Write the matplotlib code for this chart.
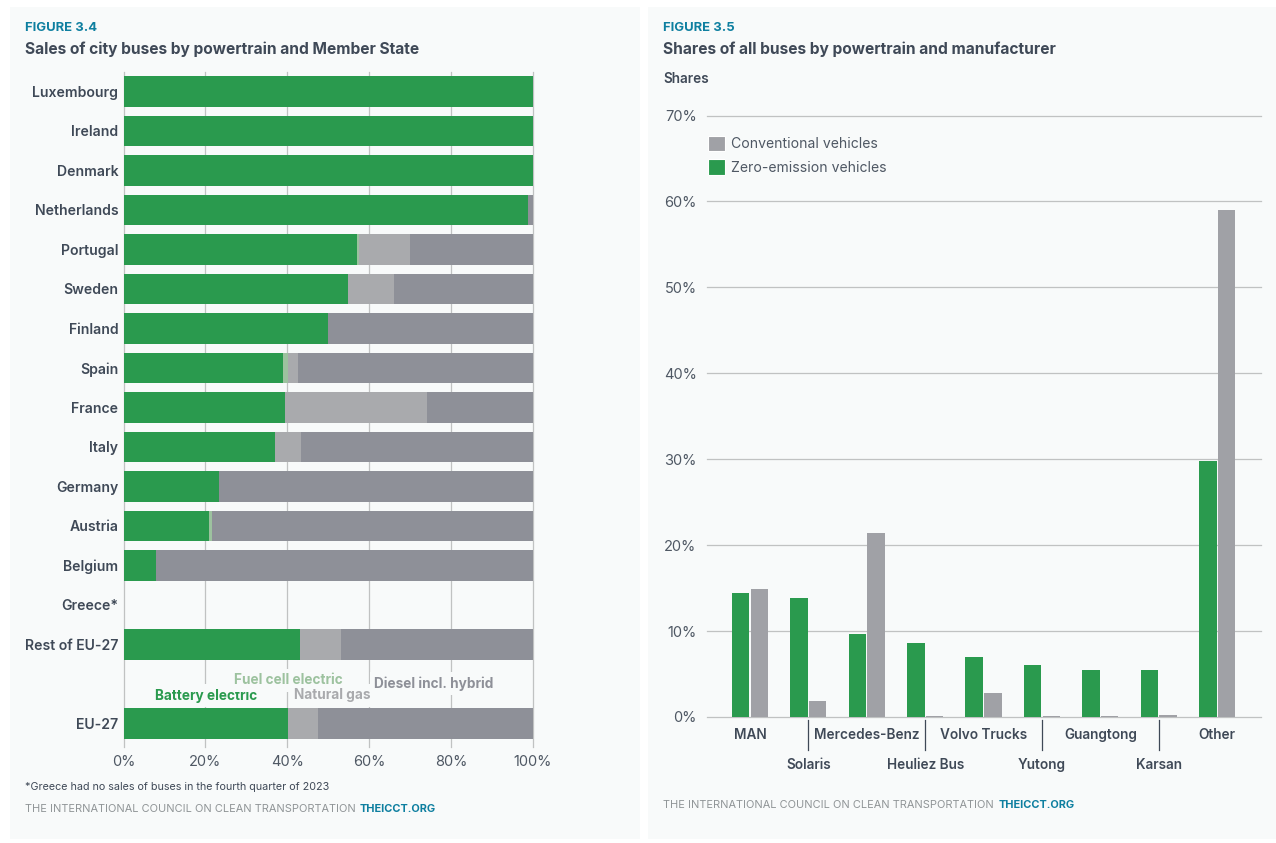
"""
Two panels: city bus sales by Member State, bus shares by manufacturer.
"""

import numpy as np
import matplotlib
matplotlib.use("Agg")
import matplotlib.pyplot as plt
from matplotlib.patches import Rectangle, Patch

plt.rcParams["font.family"] = ["Inter", "DejaVu Sans"]

W, H = 1276, 843

# ---------------------------------------------------------------------------
# Data
# ---------------------------------------------------------------------------

countries = ["Luxembourg", "Ireland", "Denmark", "Netherlands", "Portugal", "Sweden",
             "Finland", "Spain", "France", "Italy", "Germany", "Austria", "Belgium",
             "Greece*", "Rest of EU-27", "", "EU-27"]
battery = [100, 100, 100, 98.8, 57.0, 54.8, 49.9, 39.0, 39.4, 37.0, 23.3, 21.0, 8.0, 0, 43.1, 0, 40.2]
fuel_cell = [0, 0, 0, 0, 0.5, 0, 0, 1.2, 0, 0, 0, 0.7, 0, 0, 0, 0, 0]
natural_gas = [0, 0, 0, 0, 12.5, 11.2, 0, 2.4, 34.7, 6.3, 0, 0, 0, 0, 9.9, 0, 7.3]
diesel = [0, 0, 0, 1.2, 30.0, 34.0, 50.1, 57.4, 25.9, 56.7, 76.7, 78.3, 92.0, 0, 47.0, 0, 52.5]
pct_ticks = [0, 20, 40, 60, 80, 100]

makers = ["MAN", "Solaris", "Mercedes-Benz", "Heuliez Bus", "Volvo Trucks",
          "Yutong", "Guangtong", "Karsan", "Other"]
zero_emission = [14.4, 13.9, 9.7, 8.6, 7.0, 6.0, 5.5, 5.5, 29.8]
conventional = [14.9, 1.9, 21.4, 0.1, 2.8, 0.1, 0.1, 0.2, 59.0]
share_ticks = [0, 10, 20, 30, 40, 50, 60, 70]

# ---------------------------------------------------------------------------
# Style
# ---------------------------------------------------------------------------

PANEL = "#F8FAFA"
GREEN = "#2A9A4E"
FUEL = "#9DC29F"
GAS = "#A9AAAD"
DIESEL = "#8E9098"
CONV = "#A0A1A6"
GRID = "#C0C2C2"
DARK = "#3F4957"
TICK = "#4F5864"
TEAL = "#0E7FA0"
FOOT = "#8F9496"


def ftext(x, y, s, **kw):
    # x, y in image pixels from the top left
    kw.setdefault("va", "center")
    return fig.text(x / W, 1 - y / H, s, **kw)


def px_axes(left, top, right, bottom):
    return fig.add_axes([left / W, 1 - bottom / H, (right - left) / W, (bottom - top) / H])


fig = plt.figure(figsize=(W / 100, H / 100), dpi=100, facecolor="white")
for x0, x1 in [(10, 640), (648, 1276)]:
    fig.add_artist(Rectangle((x0 / W, 1 - 839 / H), (x1 - x0) / W, 832 / H,
                             transform=fig.transFigure, color=PANEL, lw=0, zorder=-1))

# ---------------------------------------------------------------------------
# Figure 3.4
# ---------------------------------------------------------------------------

ax = px_axes(123.5, 72, 533, 747)
ax.patch.set_alpha(0)
ax.set_xlim(0, 100)
ax.set_ylim(16.6, -0.494)
ax.spines[:].set_visible(False)

y = np.arange(len(countries))
left = np.zeros(len(countries))
for vals, col in [(battery, GREEN), (fuel_cell, FUEL), (natural_gas, GAS), (diesel, DIESEL)]:
    ax.barh(y, vals, left=left, height=0.775, color=col, lw=0, zorder=3)
    left += np.array(vals)

ax.set_xticks(pct_ticks, [f"{t}%" for t in pct_ticks])
ax.tick_params(axis="x", length=0, pad=6, labelsize=10.5, labelcolor=TICK)
ax.xaxis.grid(True, color=GRID, lw=0.9, zorder=0, clip_on=False)
ax.set_axisbelow(True)
ax.set_yticks(y, countries)
ax.tick_params(axis="y", length=0, pad=3.8, labelsize=10.1, labelcolor=DARK)
for lab in ax.get_yticklabels():
    lab.set_fontweight("semibold")

halo = dict(facecolor=PANEL, edgecolor="none", pad=3)
ftext(206, 695.5, "Battery electric", ha="center", color=GREEN, fontsize=9.8,
      fontweight="bold", bbox=halo, zorder=5)
ftext(288.5, 680.5, "Fuel cell electric", ha="center", color=FUEL, fontsize=9.8,
      fontweight="bold", bbox=halo, zorder=5)
ftext(332.5, 695.5, "Natural gas", ha="center", color=GAS, fontsize=9.8,
      fontweight="bold", bbox=halo, zorder=5)
ftext(434, 683.5, "Diesel incl. hybrid", ha="center", color=DIESEL, fontsize=9.8,
      fontweight="bold", bbox=halo, zorder=5)

ftext(25, 28, "FIGURE 3.4", color=TEAL, fontsize=9.4, fontweight="bold")
ftext(25, 49.5, "Sales of city buses by powertrain and Member State", color=DARK,
      fontsize=11.2, fontweight="bold")
ftext(25, 786.5, "*Greece had no sales of buses in the fourth quarter of 2023", color=DARK, fontsize=7.75)
ftext(25, 808.5, "THE INTERNATIONAL COUNCIL ON CLEAN TRANSPORTATION", color=FOOT, fontsize=7.9)
ftext(360, 808.5, "THEICCT.ORG", color=TEAL, fontsize=7.9, fontweight="bold")

# ---------------------------------------------------------------------------
# Figure 3.5
# ---------------------------------------------------------------------------

ax2 = px_axes(707, 115.5, 1261, 717)
ax2.patch.set_alpha(0)
ax2.set_xlim(-0.736, 8.75)
ax2.set_ylim(0, 70)
ax2.spines[:].set_visible(False)

x = np.arange(len(makers))
ax2.bar(x - 0.16, zero_emission, width=0.3, color=GREEN, lw=0, zorder=3)
ax2.bar(x + 0.16, conventional, width=0.3, color=CONV, lw=0, zorder=3)

ax2.set_yticks(share_ticks, [f"{t}%" for t in share_ticks])
ax2.tick_params(axis="y", length=0, pad=7.5, labelsize=10.5, labelcolor=TICK)
ax2.yaxis.grid(True, color=GRID, lw=0.9, zorder=0, clip_on=False)
ax2.set_axisbelow(True)
ax2.set_xticks([])

# Staggered manufacturer labels, separators above the lower row
trans = ax2.get_xaxis_transform()
for i, name in enumerate(makers):
    low = i % 2 == 1
    ax2.annotate(name, xy=(i, 0), xycoords=trans, xytext=(0, -34.7 if low else -13.2),
                 textcoords="offset points", ha="center", va="center",
                 color=DARK, fontsize=9.8, fontweight="semibold", annotation_clip=False)
    if low:
        ax2.plot([i, i], [-3 / 601.5, -33 / 601.5], transform=trans, color=DARK,
                 lw=0.9, clip_on=False, zorder=4)

handles = [Patch(facecolor=CONV, edgecolor="white", lw=0.8, label="Conventional vehicles"),
           Patch(facecolor=GREEN, edgecolor="white", lw=0.8, label="Zero-emission vehicles")]
ax2.legend(handles=handles, loc="upper left", bbox_to_anchor=(1 / 554, 1 - 20 / 601.5), frameon=False,
           fontsize=10.1, labelcolor=TICK, handlelength=1.2, handleheight=1.3,
           handletextpad=0.45, labelspacing=0.6, borderaxespad=0, borderpad=0)

ftext(663, 28, "FIGURE 3.5", color=TEAL, fontsize=9.4, fontweight="bold")
ftext(663, 49.5, "Shares of all buses by powertrain and manufacturer", color=DARK,
      fontsize=11.2, fontweight="bold")
ftext(663, 79, "Shares", color=DARK, fontsize=9.8, fontweight="semibold")
ftext(663, 805.5, "THE INTERNATIONAL COUNCIL ON CLEAN TRANSPORTATION", color=FOOT, fontsize=7.9)
ftext(999, 805.5, "THEICCT.ORG", color=TEAL, fontsize=7.9, fontweight="bold")

fig.savefig("out.png", dpi=100, facecolor="white")
